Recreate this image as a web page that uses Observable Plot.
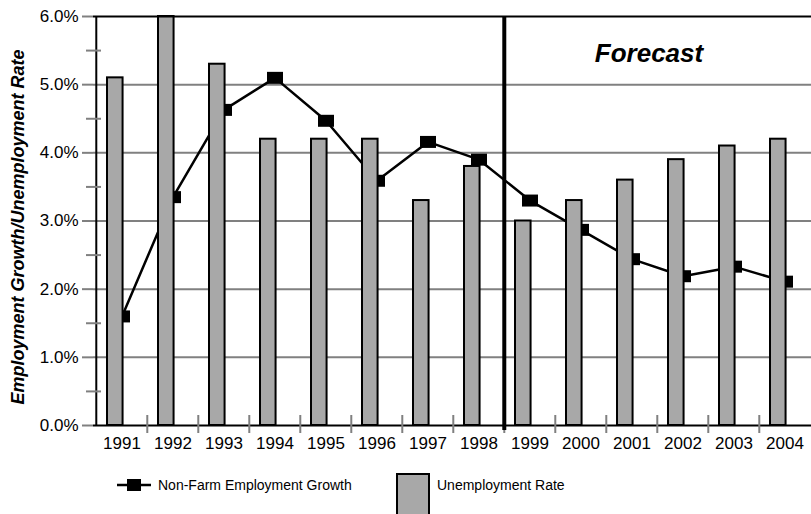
<!DOCTYPE html>
<html><head><meta charset="utf-8">
<script src="https://cdn.jsdelivr.net/npm/d3@7"></script>
<script src="https://cdn.jsdelivr.net/npm/@observablehq/plot@0.6"></script>
<style>
body{margin:0;background:#fff;font-family:"Liberation Sans",Arial,sans-serif;}
#wrap{position:relative;width:811px;height:514px;overflow:hidden;}
.lg{position:absolute;font-size:14px;line-height:16px;color:#000;white-space:nowrap;}
</style></head><body><div id="wrap"></div>
<script>
const years = ["1991","1992","1993","1994","1995","1996","1997","1998","1999","2000","2001","2002","2003","2004"];
const unemploymentRate = [5.1,6.0,5.3,4.2,4.2,4.2,3.3,3.8,3.0,3.3,3.6,3.9,4.1,4.2];
const employmentGrowth = [1.6,3.35,4.63,5.1,4.47,3.59,4.16,3.9,3.3,2.87,2.44,2.19,2.33,2.11];
const yTicks = [0,1,2,3,4,5,6];
const yMinorTicks = [0.5,1.5,2.5,3.5,4.5,5.5];
const forecastStart = "1999";
const forecastLabelYear = "2001";
const forecastLabelValue = 5.46;
const yTitle = "Employment Growth/Unemployment Rate";
const forecastLabel = "Forecast";
const lineLabel = "Non-Farm Employment Growth";
const barLabel = "Unemployment Rate";

const data = years.map((year, i) => ({year, rate: unemploymentRate[i], growth: employmentGrowth[i]}));

const W = 811, H = 455, ML = 93, MR = -2, MT = 16, MB = 30;
const slot = (W - ML - MR) / years.length;
const GRID = "#808080", BAR = "#a8a8a8";
const rectSymbol = {draw(ctx) { ctx.rect(-8, -6, 16, 12); }};

const chart = Plot.plot({
  width: W, height: H,
  marginLeft: ML, marginRight: MR, marginTop: MT, marginBottom: MB,
  style: {fontFamily: "'Liberation Sans', Arial, sans-serif", fontSize: "17px", color: "#000", background: "#fff", overflow: "visible"},
  x: {type: "band", domain: years, padding: 0, axis: null},
  y: {domain: [0, 6], axis: null},
  marks: [
    Plot.ruleY(yTicks.slice(1, -1), {y: d => d, stroke: GRID, strokeWidth: 2}),
    Plot.ruleY(yTicks, {y: d => d, stroke: GRID, strokeWidth: 2, insetLeft: -11, insetRight: W - MR - ML}),
    Plot.line(data, {x: "year", y: "growth", stroke: "#000", strokeWidth: 2.5}),
    Plot.dot(data, {x: "year", y: "growth", symbol: rectSymbol, fill: "#000", stroke: null, r: 6}),
    Plot.barY(data, {x: "year", y: "rate", fill: BAR, stroke: "#000", strokeWidth: 2, insetLeft: 11, insetRight: slot - 27}),
    Plot.ruleY([0, 6], {y: d => d, stroke: "#000", strokeWidth: 2}),
    Plot.ruleX([years[0]], {x: d => d, dx: -slot / 2, stroke: "#000", strokeWidth: 2}),
    Plot.ruleY(yMinorTicks, {y: d => d, stroke: GRID, strokeWidth: 2, insetLeft: -7, insetRight: W - MR - ML - 8}),
    Plot.ruleX(years.slice(1), {x: d => d, dx: -slot / 2, y1: 0, y2: 0, insetTop: -10, insetBottom: -8, stroke: GRID, strokeWidth: 2}),
    Plot.ruleX([forecastStart], {x: d => d, dx: -slot / 2, stroke: "#000", strokeWidth: 4, insetBottom: -5}),
    Plot.text(yTicks, {frameAnchor: "left", y: d => d, text: d => d.toFixed(1) + "%", textAnchor: "end", dx: -15, fill: "#000", fontSize: 17}),
    Plot.text(years, {x: d => d, frameAnchor: "bottom", text: d => d, lineAnchor: "top", dy: 11, fill: "#000", fontSize: 17}),
    Plot.text([forecastLabel], {x: () => forecastLabelYear, y: () => forecastLabelValue, text: d => d, dx: 17, fontSize: 26, fontWeight: "bold", fontStyle: "italic", fill: "#000"}),
    Plot.text([yTitle], {frameAnchor: "left", text: d => d, rotate: -90, textAnchor: "middle", dx: -75, dy: 6, fontSize: 18, fontWeight: "bold", fontStyle: "italic", fill: "#000"})
  ]
});

const wrap = document.getElementById("wrap");
wrap.appendChild(chart);

function legendEl(left, top) {
  const d = document.createElement("div");
  d.className = "lg";
  d.style.left = left + "px";
  d.style.top = top + "px";
  wrap.appendChild(d);
  return d;
}
legendEl(117, 478).innerHTML = `<svg width="34" height="14" style="display:block"><line x1="0" x2="34" y1="7" y2="7" stroke="#000" stroke-width="2.5"/><rect x="10" y="1" width="14" height="12" fill="#000"/></svg>`;
legendEl(158, 477).textContent = lineLabel;
const barKey = legendEl(396, 473);
barKey.style.width = "30px"; barKey.style.height = "45px";
barKey.style.background = BAR; barKey.style.border = "2px solid #000";
legendEl(437, 477).textContent = barLabel;
</script></body></html>
